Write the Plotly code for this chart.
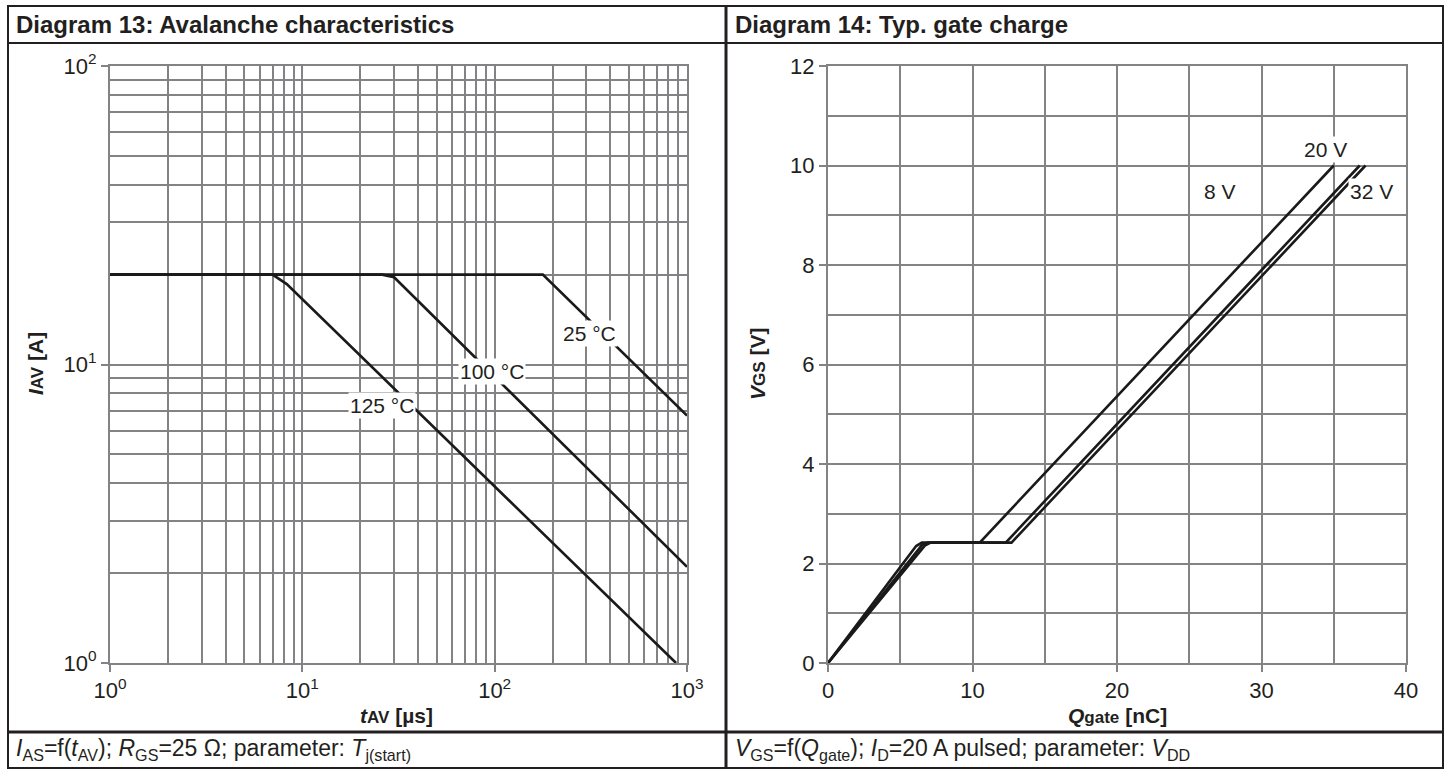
import numpy as np
import plotly.graph_objects as go

W, H = 1450, 770

# ---------------- data ----------------
# Diagram 13: avalanche characteristics (log-log)
t_25 = [1, 178, 1000]
I_25 = [20, 20, 6.74]
t_100 = [1, 26, 30, 1000]
I_100 = [20, 20, 19.6, 2.1]
t_125 = [1, 7, 8.3, 877]
I_125 = [20, 20, 18.6, 1.0]
labels_13 = ["25 °C", "100 °C", "125 °C"]
label_t_13 = [312, 96.5, 26.1]
label_I_13 = [12.7, 9.5, 7.3]

# Diagram 14: typ. gate charge
q_8 = [0, 6.1, 6.5, 10.5, 35.0]
v_8 = [0, 2.35, 2.42, 2.42, 10.0]
q_20 = [0, 6.5, 6.9, 12.3, 36.8]
v_20 = [0, 2.37, 2.42, 2.42, 10.0]
q_32 = [0, 6.7, 7.1, 12.7, 37.2]
v_32 = [0, 2.36, 2.42, 2.42, 10.0]
labels_14 = ["20 V", "8 V", "32 V"]
label_q_14 = [34.4, 27.1, 37.6]
label_v_14 = [10.33, 9.47, 9.47]

x13_major = [1, 10, 100, 1000]
x13_text = ["10<sup>0</sup>", "10<sup>1</sup>", "10<sup>2</sup>", "10<sup>3</sup>"]
y13_major = [1, 10, 100]
y13_text = ["10<sup>0</sup>", "10<sup>1</sup>", "10<sup>2</sup>"]
x14_ticks = [0, 10, 20, 30, 40]
y14_ticks = [0, 2, 4, 6, 8, 10, 12]

# ---------------- style ----------------
FONT = "Liberation Sans, Arial, sans-serif"
TXT = "#231f20"
GRID = "#838385"
CURVE = "#1a1a1a"


def px_x(p):
    return p / W


def px_y(p):
    return 1 - p / H


minor_log = [m * 10 ** e for e in range(0, 3) for m in range(2, 10)]
minor_log_y = [m * 10 ** e for e in range(0, 2) for m in range(2, 10)]

fig = go.Figure()

for t, i in [(t_25, I_25), (t_100, I_100), (t_125, I_125)]:
    fig.add_trace(go.Scatter(x=t, y=i, mode="lines", xaxis="x", yaxis="y",
                             line=dict(color=CURVE, width=2.6), showlegend=False,
                             hoverinfo="skip"))

for q, v in [(q_8, v_8), (q_20, v_20), (q_32, v_32)]:
    fig.add_trace(go.Scatter(x=q, y=v, mode="lines", xaxis="x2", yaxis="y2",
                             line=dict(color=CURVE, width=2.6), showlegend=False,
                             hoverinfo="skip"))

axis_common = dict(
    showline=True, linecolor=GRID, linewidth=2, mirror=True,
    showgrid=True, gridcolor=GRID, gridwidth=2,
    ticks="outside", ticklen=7, tickwidth=2, tickcolor=GRID,
    tickfont=dict(family=FONT, size=22, color=TXT),
    zeroline=False, fixedrange=True, automargin=False,
)

fig.update_layout(
    autosize=True,
    margin=dict(l=0, r=0, t=0, b=0, pad=0, autoexpand=False),
    paper_bgcolor="white", plot_bgcolor="white",
    font=dict(family=FONT, color=TXT),
    xaxis=dict(axis_common, type="log", range=[0, 3],
               domain=[px_x(110), px_x(687)], anchor="y",
               tickmode="array", tickvals=x13_major, ticktext=x13_text,
               minor=dict(tickvals=minor_log, showgrid=True, gridcolor=GRID,
                          gridwidth=2, ticks="")),
    yaxis=dict(axis_common, type="log", range=[0, 2],
               domain=[px_y(663), px_y(66)], anchor="x",
               tickmode="array", tickvals=y13_major, ticktext=y13_text,
               minor=dict(tickvals=minor_log_y, showgrid=True, gridcolor=GRID,
                          gridwidth=2, ticks="")),
    xaxis2=dict(axis_common, range=[0, 40],
                domain=[px_x(828), px_x(1406)], anchor="y2",
                tickmode="array", tickvals=x14_ticks,
                minor=dict(dtick=5, showgrid=True, gridcolor=GRID,
                           gridwidth=2, ticks="")),
    yaxis2=dict(axis_common, range=[0, 12],
                domain=[px_y(663), px_y(66)], anchor="x2",
                tickmode="array", tickvals=y14_ticks,
                minor=dict(dtick=1, showgrid=True, gridcolor=GRID,
                           gridwidth=2, ticks="")),
)

# ---------------- frame ----------------
frame = dict(color="#231f20", width=2)
shapes = [
    dict(type="rect", xref="paper", yref="paper",
         x0=px_x(8), x1=px_x(1443), y0=px_y(768), y1=px_y(6), line=frame),
    dict(type="line", xref="paper", yref="paper",
         x0=px_x(8), x1=px_x(1443), y0=px_y(43), y1=px_y(43), line=frame),
    dict(type="line", xref="paper", yref="paper",
         x0=px_x(8), x1=px_x(1443), y0=px_y(732), y1=px_y(732),
         line=dict(color="#231f20", width=3)),
    dict(type="line", xref="paper", yref="paper",
         x0=px_x(726), x1=px_x(726), y0=px_y(768), y1=px_y(6),
         line=dict(color="#231f20", width=3)),
]
fig.update_layout(shapes=shapes)

ann = []


def text(x, y, s, size, xanchor="left", yanchor="middle", angle=0):
    ann.append(dict(x=px_x(x), y=px_y(y), xref="paper", yref="paper",
                    text=s, showarrow=False, xanchor=xanchor, yanchor=yanchor,
                    textangle=angle, font=dict(family=FONT, size=size, color=TXT)))


def sm(s, size=16):
    return f'<span style="font-size:{size}px">{s}</span>'


text(14, 25, "<b>Diagram 13: Avalanche characteristics</b>", 24)
text(733, 25, "<b>Diagram 14: Typ. gate charge</b>", 24)
text(14, 749, "<i>I</i><sub>AS</sub>=f(<i>t</i><sub>AV</sub>); <i>R</i><sub>GS</sub>=25 Ω; "
     "parameter: <i>T</i><sub>j(start)</sub>", 23)
text(733, 749, "<i>V</i><sub>GS</sub>=f(<i>Q</i><sub>gate</sub>); <i>I</i><sub>D</sub>=20 A pulsed; "
     "parameter: <i>V</i><sub>DD</sub>", 23)

# axis titles
text(396, 715, "<b><i>t</i>" + sm("AV", 17) + " [µs]</b>", 21, xanchor="center")
text(36, 364, "<b><i>I</i>" + sm("AV", 17) + " [A]</b>", 21, xanchor="center", angle=-90)
text(1117, 715, "<b><i>Q</i>" + sm("gate", 17) + " [nC]</b>", 21, xanchor="center")
text(758, 364, "<b><i>V</i>" + sm("GS", 17) + " [V]</b>", 21, xanchor="center", angle=-90)

# curve labels
for s, t, i in zip(labels_13, label_t_13, label_I_13):
    ann.append(dict(x=np.log10(t), y=np.log10(i), xref="x", yref="y", text=s,
                    showarrow=False, bgcolor="white", borderpad=1,
                    font=dict(family=FONT, size=21, color=TXT)))
for s, q, v in zip(labels_14, label_q_14, label_v_14):
    ann.append(dict(x=q, y=v, xref="x2", yref="y2", text=s,
                    showarrow=False, bgcolor="white", borderpad=1,
                    font=dict(family=FONT, size=21, color=TXT)))

fig.update_layout(annotations=ann)

fig.write_html("out.html", default_width="100vw", default_height="100vh",
               config={"responsive": True, "displayModeBar": False},
               post_script="document.body.style.margin='0';"
                           "document.body.style.overflow='hidden';"
                           "Plotly.Plots.resize(document.getElementById('{plot_id}'));")
